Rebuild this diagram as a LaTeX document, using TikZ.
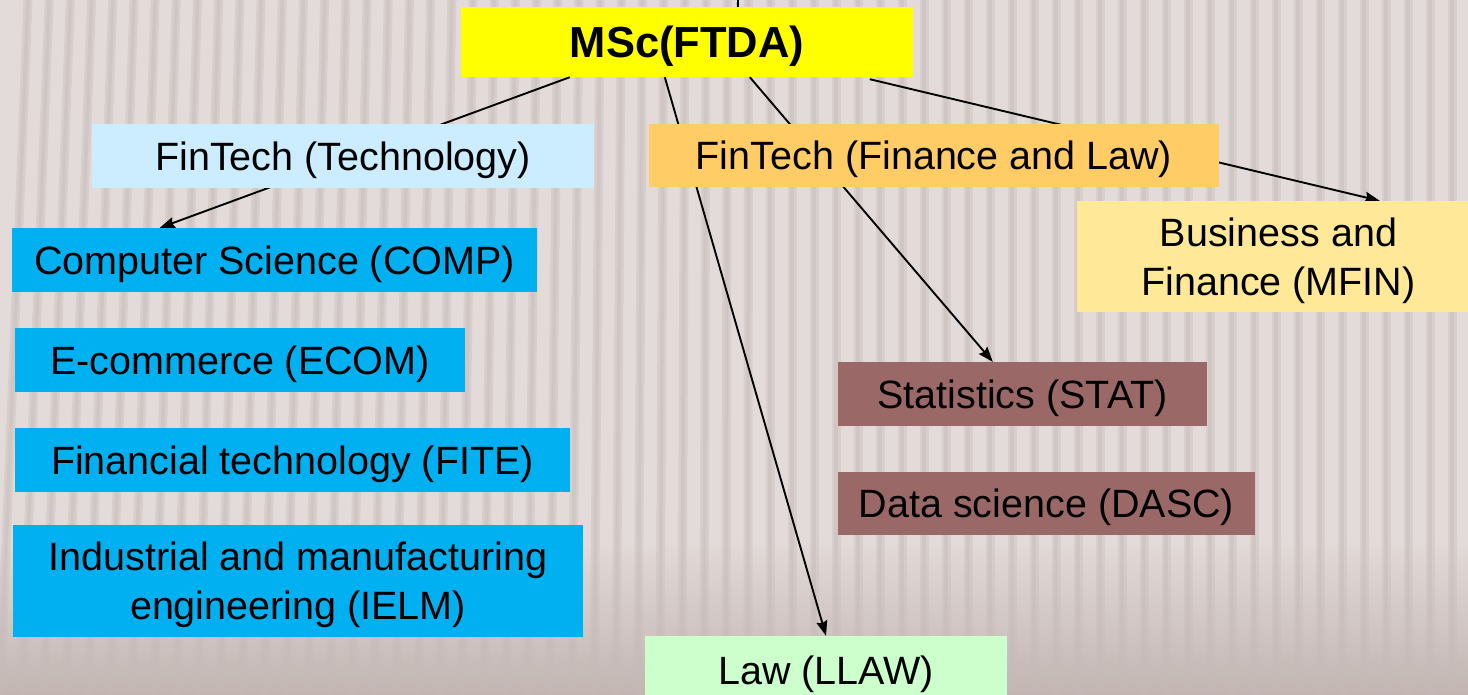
\documentclass[tikz,border=0pt]{standalone}
\usepackage{fontspec}
\setmainfont{Liberation Sans}
\usetikzlibrary{arrows.meta}
\definecolor{bgc}{HTML}{E3DBD9}
\definecolor{bgdark}{HTML}{C2B5B2}
\definecolor{stripec}{HTML}{C6BBB9}
\definecolor{cyellow}{HTML}{FFFF00}
\definecolor{clblue}{HTML}{CCECFF}
\definecolor{corange}{HTML}{FFCC66}
\definecolor{clyellow}{HTML}{FFE999}
\definecolor{ccyan}{HTML}{00B0F0}
\definecolor{cbrown}{HTML}{9B6868}
\definecolor{clgreen}{HTML}{CCFFCC}
\tikzset{
  box/.style={rectangle, inner sep=0pt, align=center, text=black},
  lbl/.style={inner sep=0pt, align=center, text=black, yshift=-4,
    font=\fontsize{39.5}{49}\selectfont},
  conn/.style={line width=1.9pt, draw=black, -{Stealth[length=15pt,width=11pt,inset=2pt]}},
  plain/.style={line width=1.9pt, draw=black},
  stripe/.style={draw=stripec, line width=9pt, opacity=0.35},
  stripein/.style={draw=stripec, line width=4pt, opacity=0.4}
}
\begin{document}
\begin{tikzpicture}[x=1pt,y=-1pt]
\useasboundingbox (0,0) rectangle (1468,694);
% background
\fill[bgc] (0,0) rectangle (1468,694);
\shade[top color=bgc, bottom color=bgdark] (0,540) rectangle (1468,694);
\foreach \i in {0,...,68} {
  \pgfmathsetmacro\xb{\i*22}
  \pgfmathsetmacro\sl{max(0,28*(1-\xb/760))}
  \draw[stripe] (\xb+\sl,0) -- (\xb,694);
  \draw[stripein] (\xb+\sl,0) -- (\xb,694);
}
% box nodes
\node[box, fill=cyellow, minimum width=452, minimum height=70] (msc) at (687,42) {};
\coordinate (topstub) at (738,0);
% connectors (drawn beneath the intermediate boxes)
\path
  node[box, minimum width=525, minimum height=64] (comp) at (274.5,260) {}
  node[box, minimum width=362, minimum height=68] (llaw) at (826,670) {}
  node[box, minimum width=369, minimum height=64] (stat) at (1022.5,394) {}
  node[box, minimum width=403, minimum height=111] (mfin) at (1278.5,256.5) {};
\draw[plain] (topstub) -- ([xshift=277]msc.north west);
\draw[conn] ([xshift=109]msc.south west) -- ([xshift=148]comp.north west);
\draw[conn] ([xshift=204]msc.south west) -- (llaw.north);
\draw[conn] ([xshift=289]msc.south west) -- ([xshift=155]stat.north west);
\draw[conn] ([xshift=409,yshift=-2]msc.south west) -- ([xshift=303]mfin.north west);
% filled boxes
\node[box, fill=clblue, minimum width=502, minimum height=64] (tech) at (343,156) {};
\node[box, fill=corange, minimum width=570, minimum height=63] (finlaw) at (934,155.5) {};
\node[box, fill=clyellow, minimum width=403, minimum height=111] at (mfin) {};
\node[box, fill=ccyan, minimum width=525, minimum height=64] at (comp) {};
\node[box, fill=ccyan, minimum width=450, minimum height=64] (ecom) at (240,360) {};
\node[box, fill=ccyan, minimum width=555, minimum height=64] (fite) at (292.5,460) {};
\node[box, fill=ccyan, minimum width=570, minimum height=112] (ielm) at (298,581) {};
\node[box, fill=cbrown, minimum width=369, minimum height=64] at (stat) {};
\node[box, fill=cbrown, minimum width=417, minimum height=63] (dasc) at (1046.5,503.5) {};
\node[box, fill=clgreen, minimum width=362, minimum height=68] at (llaw) {};
% labels
\node[lbl, font=\fontsize{43.5}{50}\selectfont\bfseries] at (msc) {MSc(FTDA)};
\node[lbl] at (tech) {FinTech (Technology)};
\node[lbl] at (finlaw) {FinTech (Finance and Law)};
\node[lbl] at (mfin) {Business and\\Finance (MFIN)};
\node[lbl] at (comp) {Computer Science (COMP)};
\node[lbl] at (ecom) {E-commerce (ECOM)};
\node[lbl] at (fite) {Financial technology (FITE)};
\node[lbl] at (ielm) {Industrial and manufacturing\\engineering (IELM)};
\node[lbl] at (stat) {Statistics (STAT)};
\node[lbl] at (dasc) {Data science (DASC)};
\node[lbl] at (llaw) {Law (LLAW)};
\end{tikzpicture}
\end{document}
